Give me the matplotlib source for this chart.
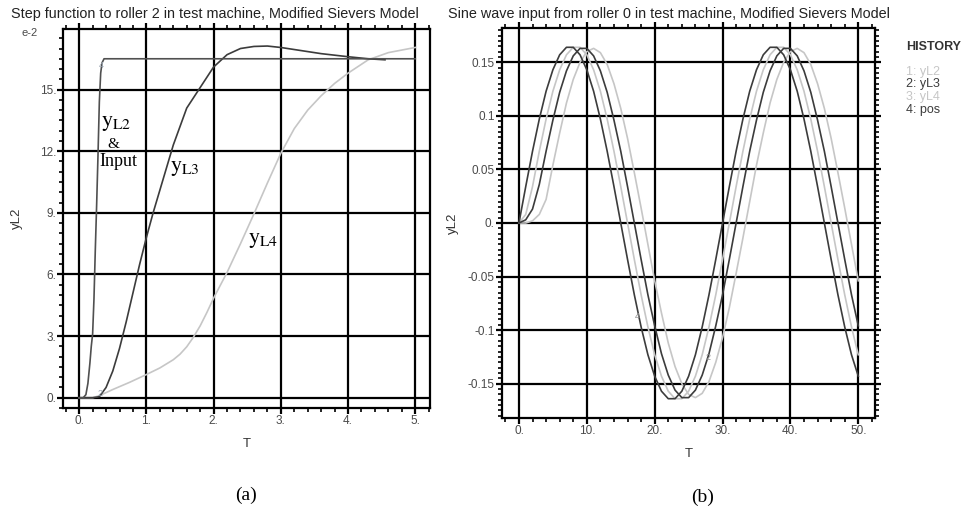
import matplotlib
matplotlib.use("Agg")
import matplotlib.pyplot as plt
from matplotlib.ticker import MultipleLocator

plt.rcParams['font.family'] = ['Liberation Sans', 'DejaVu Sans']
plt.rcParams['mathtext.fontset'] = 'stix'

# ---- panel (a): step response, y values in units of 1e-2
a_t_l2 = [0, 0.06, 0.10, 0.13, 0.16, 0.18, 0.20, 0.22, 0.24, 0.26, 0.28, 0.30,
          0.32, 0.34, 0.37, 5.0]
a_y_l2 = [0, 0, 0.15, 0.7, 1.7, 2.5, 3.1, 4.8, 7.2, 9.4, 11.8, 14.4,
          15.8, 16.3, 16.5, 16.5]

a_t_l3 = [0, 0.2, 0.3, 0.4, 0.5, 0.6, 0.7, 0.8, 0.9, 1.0, 1.1, 1.2, 1.3, 1.4,
          1.6, 1.8, 2.0, 2.2, 2.4, 2.6, 2.8, 3.0, 3.3, 3.6, 4.0, 4.3, 4.55]
a_y_l3 = [0, 0, 0.05, 0.5, 1.3, 2.4, 3.7, 5.1, 6.5, 7.8, 9.0, 10.1, 11.2, 12.3,
          14.1, 15.1, 16.1, 16.7, 17.0, 17.1, 17.12, 17.05, 16.9, 16.75, 16.6,
          16.5, 16.45]

a_t_l4 = [0, 0.2, 0.3, 0.5, 0.75, 1.0, 1.2, 1.3, 1.4, 1.5, 1.6, 1.7, 1.8, 1.9,
          2.0, 2.2, 2.4, 2.6, 2.8, 3.0, 3.2, 3.4, 3.6, 3.8, 4.0, 4.3, 4.6, 5.0]
a_y_l4 = [0, 0, 0.1, 0.4, 0.75, 1.13, 1.45, 1.65, 1.85, 2.12, 2.48, 2.95, 3.5,
          4.15, 4.85, 6.1, 7.5, 8.95, 10.45, 11.9, 13.1, 14.0, 14.7, 15.3,
          15.8, 16.45, 16.8, 17.05]

a_xticks = [0, 1, 2, 3, 4, 5]
a_xlabels = ['0.', '1.', '2.', '3.', '4.', '5.']
a_yticks = [0, 3, 6, 9, 12, 15]
a_ylabels = ['0.', '3.', '6.', '9.', '12.', '15.']

# ---- panel (b): sine input response
b_t = list(range(51))
b_pos = [0, 0.034, 0.067, 0.097, 0.123, 0.143, 0.157, 0.164, 0.164, 0.157,
         0.143, 0.123, 0.097, 0.067, 0.034, 0.000, -0.034, -0.067, -0.097,
         -0.123, -0.143, -0.157, -0.164, -0.164, -0.157, -0.143, -0.123,
         -0.097, -0.067, -0.034, 0.000, 0.034, 0.067, 0.097, 0.123, 0.143,
         0.157, 0.164, 0.164, 0.157, 0.143, 0.123, 0.097, 0.067, 0.034, 0.000,
         -0.034, -0.067, -0.097, -0.123, -0.143]
b_l2 = [0, 0.008, 0.034, 0.067, 0.097, 0.123, 0.143, 0.157, 0.164, 0.164,
        0.157, 0.143, 0.123, 0.097, 0.067, 0.034, 0.000, -0.034, -0.067,
        -0.097, -0.123, -0.143, -0.157, -0.164, -0.164, -0.157, -0.143,
        -0.123, -0.097, -0.067, -0.034, 0.000, 0.034, 0.067, 0.097, 0.123,
        0.143, 0.157, 0.164, 0.164, 0.157, 0.143, 0.123, 0.097, 0.067, 0.034,
        0.000, -0.034, -0.067, -0.097, -0.123]
b_l3 = [0, 0.003, 0.013, 0.036, 0.067, 0.096, 0.122, 0.142, 0.156, 0.163,
        0.163, 0.156, 0.142, 0.122, 0.096, 0.067, 0.034, 0.000, -0.034,
        -0.067, -0.096, -0.122, -0.142, -0.156, -0.163, -0.163, -0.156,
        -0.142, -0.122, -0.096, -0.067, -0.034, 0.000, 0.034, 0.067, 0.096,
        0.122, 0.142, 0.156, 0.163, 0.163, 0.156, 0.142, 0.122, 0.096, 0.067,
        0.034, 0.000, -0.034, -0.067, -0.096]
b_l4 = [0, 0, 0.002, 0.008, 0.022, 0.054, 0.084, 0.112, 0.134, 0.150, 0.160,
        0.163, 0.159, 0.148, 0.130, 0.107, 0.079, 0.047, 0.014, -0.020,
        -0.054, -0.084, -0.112, -0.134, -0.150, -0.160, -0.163, -0.159,
        -0.148, -0.130, -0.107, -0.079, -0.047, -0.014, 0.020, 0.054, 0.084,
        0.112, 0.134, 0.150, 0.160, 0.163, 0.159, 0.148, 0.130, 0.107, 0.079,
        0.047, 0.014, -0.020, -0.054]

b_xticks = [0, 10, 20, 30, 40, 50]
b_xlabels = ['0.', '10.', '20.', '30.', '40.', '50.']
b_yticks = [-0.15, -0.1, -0.05, 0, 0.05, 0.1, 0.15]
b_ylabels = ['-0.15', '-0.1', '-0.05', '0.', '0.05', '0.1', '0.15']

history = ['1: yL2', '2: yL3', '3: yL4', '4: pos']

DARK = '#3c3c3c'
MID = '#505050'
LIGHT = '#c6c6c6'
TICKC = '#4a4a4a'


def style_axes(ax, xticks, xlabels, yticks, ylabels, xminor, yminor, right):
    ax.set_xticks(xticks)
    ax.set_xticklabels(xlabels)
    ax.set_yticks(yticks)
    ax.set_yticklabels(ylabels)
    ax.xaxis.set_minor_locator(MultipleLocator(xminor))
    ax.yaxis.set_minor_locator(MultipleLocator(yminor))
    ax.grid(True, which='major', color='black', linewidth=1.6, zorder=0)
    for s in ax.spines.values():
        s.set_linewidth(1.6)
    ax.tick_params(which='both', direction='out', top=True, right=right,
                   labelsize=8.5, labelcolor=TICKC, pad=1)
    ax.tick_params(which='major', length=4, width=1.6)
    ax.tick_params(which='minor', length=3, width=1.2)
    ax.set_axisbelow(True)


fig = plt.figure(figsize=(9.61, 5.14), dpi=100)

# ---------------- panel (a)
ax1 = fig.add_axes([0.0656, 0.2062, 0.3819, 0.7374])
ax1.plot(a_t_l4, a_y_l4, color=LIGHT, linewidth=1.2, zorder=3)
ax1.plot(a_t_l3, a_y_l3, color=DARK, linewidth=1.2, zorder=4)
ax1.plot(a_t_l2, a_y_l2, color=MID, linewidth=1.2, zorder=5)
ax1.set_xlim(-0.24, 5.22)
ax1.set_ylim(-0.5, 17.95)
style_axes(ax1, a_xticks, a_xlabels, a_yticks, a_ylabels, 0.2, 0.5, False)
ax1.set_xlabel('T', fontsize=9.5, color='#333333', labelpad=8)
ax1.set_ylabel('yL2', fontsize=9.5, color='#333333', labelpad=12)

ax1.text(0.335, 16.15, '4', fontsize=6.5, color='#9aa4b0', ha='center', va='center', zorder=6)
ax1.text(0.31, 0.2, '2', fontsize=6.5, color='#9aa4b0', ha='center', va='center', zorder=6)
ax1.text(0.33, 13.4, r'$\mathrm{y}_{\mathrm{L2}}$', fontsize=16, ha='left', va='center', zorder=6)
ax1.text(0.51, 12.35, '&', family='Liberation Serif', fontsize=11, ha='center', va='center', zorder=6)
ax1.text(0.3, 11.5, 'Input', family='Liberation Serif', fontsize=13, ha='left', va='center', zorder=6)
ax1.text(1.35, 11.2, r'$\mathrm{y}_{\mathrm{L3}}$', fontsize=16, ha='left', va='center', zorder=6)
ax1.text(2.51, 7.7, r'$\mathrm{y}_{\mathrm{L4}}$', fontsize=16, ha='left', va='center', zorder=6)

fig.text(11 / 961, 1 - 14 / 514, 'Step function to roller 2 in test machine, Modified Sievers Model',
         fontsize=10.4, ha='left', va='center', color='#222222')
fig.text(30 / 961, 1 - 33 / 514, 'e-2', fontsize=8, ha='center', va='center', color=TICKC)
fig.text(246 / 961, 1 - 495 / 514, '(a)', family='Liberation Serif', fontsize=14,
         ha='center', va='center')

# ---------------- panel (b)
ax2 = fig.add_axes([0.5220, 0.1868, 0.3885, 0.7587])
ax2.plot(b_t, b_l4, color=LIGHT, linewidth=1.2, zorder=3)
ax2.plot(b_t, b_l2, color=LIGHT, linewidth=1.2, zorder=3)
ax2.plot(b_t, b_l3, color=DARK, linewidth=1.2, zorder=4)
ax2.plot(b_t, b_pos, color=DARK, linewidth=1.2, zorder=4)
ax2.set_xlim(-2.55, 52.46)
ax2.set_ylim(-0.182, 0.182)
style_axes(ax2, b_xticks, b_xlabels, b_yticks, b_ylabels, 2, 0.005, True)
ax2.set_xlabel('T', fontsize=9.5, color='#333333', labelpad=8)
ax2.set_ylabel('yL2', fontsize=9.5, color='#333333', labelpad=6)
ax2.text(17.5, -0.0875, '4', fontsize=6.5, color='#8a8a8a', ha='center', va='center', zorder=6)
ax2.text(27.8, -0.126, '2', fontsize=6.5, color='#8a8a8a', ha='center', va='center', zorder=6)

fig.text(448 / 961, 1 - 14 / 514, 'Sine wave input from roller 0 in test machine, Modified Sievers Model',
         fontsize=10.4, ha='left', va='center', color='#222222')
fig.text(906 / 961, 1 - 47 / 514, 'HISTORY', fontsize=9, fontweight='bold',
         ha='left', va='center', color='#333333')
hist_colors = [LIGHT, DARK, LIGHT, DARK]
for i, (lab, c) in enumerate(zip(history, hist_colors)):
    fig.text(906 / 961, 1 - (72 + 12.5 * i) / 514, lab, fontsize=9, ha='left',
             va='center', color=c)
fig.text(703 / 961, 1 - 497 / 514, '(b)', family='Liberation Serif', fontsize=14,
         ha='center', va='center')

fig.savefig('out.png', dpi=100)
